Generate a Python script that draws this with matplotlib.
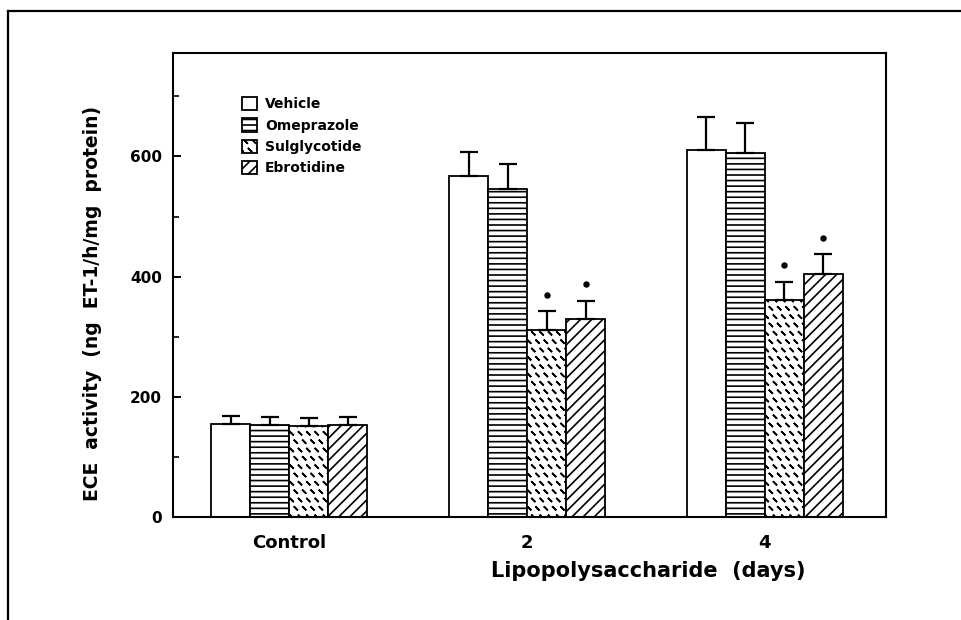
#!/usr/bin/python3
"""
ECE activity bar chart, LPS time course
"""
import numpy as np
import matplotlib
matplotlib.use("Agg")
import matplotlib.pyplot as plt
import matplotlib.hatch as mhatch
from matplotlib.path import Path
from matplotlib.patches import Patch
from matplotlib.lines import Line2D

#
# Data
#
groups = ["Control", "2", "4"]
treatments = ["Vehicle", "Omeprazole", "Sulglycotide", "Ebrotidine"]
vehicle = [155, 567, 610]
omeprazole = [154, 545, 605]
sulglycotide = [151, 312, 361]
ebrotidine = [153, 329, 404]
vehicle_err = [13, 40, 56]
omeprazole_err = [13, 42, 51]
sulglycotide_err = [13, 30, 30]
ebrotidine_err = [13, 30, 33]
vehicle_sig = [False, False, False]
omeprazole_sig = [False, False, False]
sulglycotide_sig = [False, True, True]
ebrotidine_sig = [False, True, True]


# short dash hatch for the sulglycotide bars (takes the '*' slot)
class DashHatch(mhatch.Shapes):
    size = 0.36
    filled = False

    def __init__(self, hatch, density):
        self.num_rows = hatch.count('*') * density
        self.shape_vertices = np.array([[-0.5, 0.5], [0.5, -0.5]])
        self.shape_codes = np.array([Path.MOVETO, Path.LINETO], dtype=Path.code_type)
        super().__init__(hatch, density)


mhatch._hatch_types = [h for h in mhatch._hatch_types if h is not mhatch.Stars] + [DashHatch]

plt.rcParams['font.family'] = 'DejaVu Sans'
plt.rcParams['font.weight'] = 'bold'
plt.rcParams['hatch.linewidth'] = 1.2
plt.rcParams['hatch.color'] = 'black'

fig = plt.figure(figsize=(9.61, 6.2), dpi=100)
ax = fig.add_axes([0.18, 0.166, 0.742, 0.7485])

x = np.arange(len(groups))
width = 0.164
series = [vehicle, omeprazole, sulglycotide, ebrotidine]
errors = [vehicle_err, omeprazole_err, sulglycotide_err, ebrotidine_err]
sigs = [vehicle_sig, omeprazole_sig, sulglycotide_sig, ebrotidine_sig]
hatches = ['', '---', '**', '///']

for i, (vals, err, sig, h) in enumerate(zip(series, errors, sigs, hatches)):
    pos = x + (i - 1.5) * width
    ax.bar(pos, vals, width, color='white', edgecolor='black', linewidth=1.3,
           hatch=h, zorder=2)
    ax.errorbar(pos, vals, yerr=[np.zeros(len(vals)), err], fmt='none',
                ecolor='black', elinewidth=1.6, capsize=6.5, capthick=1.6, zorder=3)
    for p, v, e, s in zip(pos, vals, err, sig):
        if s:
            ax.plot(p, v + e + 28, marker='o', markersize=3.6, color='black', zorder=4)

ax.set_xlim(-0.49, 2.51)
ax.set_ylim(0, 772)
ax.set_xticks(x)
ax.set_xticklabels(groups, fontsize=13, fontweight='bold')
ax.tick_params(axis='x', length=0, pad=12)
ax.set_yticks([0, 200, 400, 600])
ax.set_yticks([100, 300, 500, 700], minor=True)
ax.tick_params(axis='y', which='major', direction='in', length=6, width=1.4,
               labelsize=11, pad=8)
ax.tick_params(axis='y', which='minor', direction='in', length=4, width=1.2)
for lab in ax.get_yticklabels():
    lab.set_fontweight('bold')
for sp in ax.spines.values():
    sp.set_linewidth(1.5)

ax.set_ylabel("ECE  activity  (ng  ET-1/h/mg  protein)", fontsize=13.5, fontweight='bold')
ax.yaxis.set_label_coords(-0.1, 0.461)
ax.set_xlabel("Lipopolysaccharide  (days)", fontsize=15, fontweight='bold', va='top')
ax.xaxis.set_label_coords(0.666, -0.095)

handles = [Patch(facecolor='white', edgecolor='black', linewidth=1.3, hatch=h)
           for h in hatches]
ax.legend(handles, treatments, loc='upper left', bbox_to_anchor=(0.097, 0.905),
          frameon=False, prop={'size': 10, 'weight': 'bold'},
          handlelength=1.1, handleheight=1.1, handletextpad=0.55,
          labelspacing=0.5, borderpad=0, borderaxespad=0)

# outer frame of the scanned figure (top and left edges)
fig.add_artist(Line2D([0.0083, 1.0], [0.982, 0.982], transform=fig.transFigure,
                      color='black', linewidth=1.6))
fig.add_artist(Line2D([0.0083, 0.0083], [0.0, 0.982], transform=fig.transFigure,
                      color='black', linewidth=1.6))

fig.savefig("out.png", dpi=100)
